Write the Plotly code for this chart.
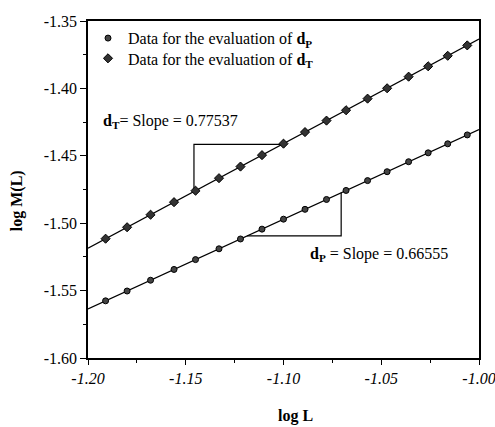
import plotly.graph_objects as go

# ---- data ----
log_L = [-1.191, -1.180, -1.168, -1.156, -1.145, -1.133, -1.122, -1.111, -1.100,
         -1.089, -1.078, -1.068, -1.057, -1.047, -1.036, -1.026, -1.016, -1.006]
log_M_dP = [-1.5576, -1.5503, -1.5423, -1.5343, -1.5270, -1.5190, -1.5117, -1.5044, -1.4970,
            -1.4897, -1.4824, -1.4757, -1.4684, -1.4618, -1.4544, -1.4478, -1.4411, -1.4345]
log_M_dT = [-1.5115, -1.5030, -1.4937, -1.4844, -1.4759, -1.4666, -1.4580, -1.4495, -1.4410,
            -1.4324, -1.4239, -1.4162, -1.4076, -1.3999, -1.3913, -1.3836, -1.3758, -1.3681]

fit_x = [-1.20, -1.00]
fit_dP = [-1.5636, -1.4305]
fit_dT = [-1.5185, -1.3634]

tri_dT_x = [-1.1458, -1.1458, -1.1007]
tri_dT_y = [-1.4765, -1.4415, -1.4415]
tri_dP_x = [-1.1186, -1.0705, -1.0705]
tri_dP_y = [-1.5094, -1.5094, -1.4774]

x_ticks = [-1.20, -1.15, -1.10, -1.05, -1.00]
x_tick_text = ["-1.20", "-1.15", "-1.10", "-1.05", "-1.00"]
y_ticks = [-1.60, -1.55, -1.50, -1.45, -1.40, -1.35]
y_tick_text = ["-1.60", "-1.55", "-1.50", "-1.45", "-1.40", "-1.35"]

FONT = "Liberation Serif"

fig = go.Figure()

line_style = dict(color="black", width=1.2)
fig.add_trace(go.Scatter(x=fit_x, y=fit_dT, mode="lines", line=line_style,
                         showlegend=False, hoverinfo="skip"))
fig.add_trace(go.Scatter(x=fit_x, y=fit_dP, mode="lines", line=line_style,
                         showlegend=False, hoverinfo="skip"))
fig.add_trace(go.Scatter(x=tri_dT_x, y=tri_dT_y, mode="lines", line=line_style,
                         showlegend=False, hoverinfo="skip"))
fig.add_trace(go.Scatter(x=tri_dP_x, y=tri_dP_y, mode="lines", line=line_style,
                         showlegend=False, hoverinfo="skip"))

fig.add_trace(go.Scatter(x=log_L, y=log_M_dP, mode="markers", legend="legend",
                         name="Data for the evaluation of <b>d<sub>P</sub></b>",
                         marker=dict(symbol="circle", size=6, color="#444444",
                                     line=dict(color="black", width=1))))
fig.add_trace(go.Scatter(x=log_L, y=log_M_dT, mode="markers", legend="legend2",
                         name="Data for the evaluation of <b>d<sub>T</sub></b>",
                         marker=dict(symbol="diamond", size=7, color="#333333",
                                     line=dict(color="black", width=1))))

fig.add_annotation(x=-1.1935, y=-1.4243, xref="x", yref="y", xanchor="left", yanchor="middle",
                   text="<b>d<sub>T</sub></b>= Slope = 0.77537", showarrow=False,
                   font=dict(family=FONT, size=16, color="black"))
fig.add_annotation(x=-1.0876, y=-1.5235, xref="x", yref="y", xanchor="left", yanchor="middle",
                   text="<b>d<sub>P</sub></b> = Slope = 0.66555", showarrow=False,
                   font=dict(family=FONT, size=16, color="black"))

fig.add_annotation(x=-0.181, y=0.466, xref="paper", yref="paper", text="<b>log M(L)</b>",
                   textangle=-90, showarrow=False, xanchor="center", yanchor="middle",
                   font=dict(family=FONT, size=16, color="black"))
fig.add_annotation(x=0.531, y=-0.171, xref="paper", yref="paper", text="<b>log L</b>",
                   showarrow=False, xanchor="center", yanchor="middle",
                   font=dict(family=FONT, size=16, color="black"))

fig.update_xaxes(range=[-1.20, -1.00], tickvals=x_ticks, ticktext=x_tick_text,
                 ticks="outside", ticklen=5, tickwidth=1.2, tickcolor="black",
                 showline=True, linecolor="black", linewidth=1.5, mirror=True,
                 showgrid=False, zeroline=False, ticklabeloverflow="allow",
                 minor=dict(dtick=0.025, ticks="outside", ticklen=3, tickcolor="black", showgrid=False),
                 tickfont=dict(family=FONT, size=16, color="black", style="italic"))
fig.update_yaxes(range=[-1.60, -1.35], tickvals=y_ticks, ticktext=y_tick_text,
                 ticks="outside", ticklen=6, tickwidth=1.2, tickcolor="black",
                 showline=True, linecolor="black", linewidth=1.5, mirror=True,
                 showgrid=False, zeroline=False, ticklabeloverflow="allow",
                 minor=dict(dtick=0.025, ticks="outside", ticklen=3, tickcolor="black", showgrid=False),
                 tickfont=dict(family=FONT, size=16, color="black"))

legend_common = dict(xanchor="left", yanchor="middle", bgcolor="rgba(0,0,0,0)",
                     font=dict(family=FONT, size=16, color="black"), borderwidth=0)
fig.update_layout(
    width=495, height=427,
    margin=dict(l=88, r=16, t=21, b=69, autoexpand=False),
    paper_bgcolor="white", plot_bgcolor="white",
    font=dict(family=FONT, size=16, color="black"),
    legend=dict(x=0.0, y=0.949, **legend_common),
    legend2=dict(x=0.0, y=0.889, **legend_common),
)

fig.write_html("out.html", config={"displayModeBar": False},
               post_script="document.body.style.margin='0';document.body.style.padding='0';")
